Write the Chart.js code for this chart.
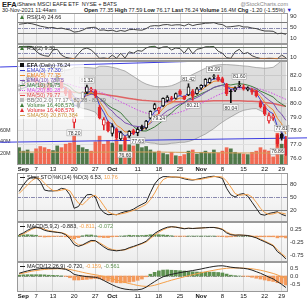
<!DOCTYPE html>
<html><head><meta charset="utf-8">
<script src="https://cdn.jsdelivr.net/npm/chart.js@4.4.1/dist/chart.umd.min.js"></script>
<style>
body{margin:0;width:307px;height:300px;overflow:hidden;background:#fff;font-family:"Liberation Sans",Arial,sans-serif;position:relative}
canvas{position:absolute;left:0}
.t{position:absolute;white-space:nowrap;line-height:1;color:#222}
</style></head><body>
<div class="t" style="left:2px;top:1px;font-size:7.5px;font-weight:bold">EFA</div>
<div class="t" style="left:17px;top:2px;font-size:5.5px">iShares MSCI EAFE ETF&nbsp; NYSE + BATS</div>
<div class="t" style="right:19px;top:2px;font-size:5.5px;color:#888">@StockCharts.com</div>
<div class="t" style="left:2px;top:8px;font-size:5.5px">30-Nov-2021 11:44am</div>
<div class="t" style="right:15px;top:8px;font-size:5.5px"><b>Open</b> 77.35 <b>High</b> 77.59 <b>Low</b> 76.17 <b>Last</b> 76.24 <b>Volume</b> 16.4M <b>Chg</b> -1.20 (-1.55%) <span style="color:#22c">&#9660;</span></div>
<canvas id="rsi14" width="307" height="31" style="top:13px"></canvas>
<canvas id="rsi2" width="307" height="17" style="top:44px"></canvas>
<canvas id="price" width="307" height="112" style="top:61px"></canvas>
<canvas id="sto" width="307" height="49" style="top:173px"></canvas>
<canvas id="macd1" width="307" height="40" style="top:222px"></canvas>
<canvas id="macd2" width="307" height="38" style="top:262px"></canvas>
<script>
const FONT='"Liberation Sans", Arial, sans-serif';
// date ticks (trading-day index, Aug 31 = 0 ... Nov 30 = 63)
const tickIdx=[1,4,8,13,18,22,28,33,38,43,48,53,58,62];
const tickText=['Sep','7','13','20','27','Oct','11','18','25','Nov','8','15','22','29'];

// daily candles
const O=[81.00,81.40,81.70,81.85,81.90,81.30,81.20,81.40,81.30,81.95, 81.60,81.00,80.90,78.60,80.00,80.30,80.80,80.95,80.90,79.70, 78.40,78.60,77.80,78.10,77.40,77.50,77.60,78.00,77.85,78.30, 78.20,78.90,79.60,79.50,79.80,80.20,80.40,80.35,80.90,80.50, 80.60,80.90,80.70,81.10,81.30,81.50,81.95,81.90,81.80,81.40, 80.90,80.95,81.25,81.20,81.00,80.95,80.90,80.05,79.75,78.70, 78.95,77.70,77.75,77.35];
const H=[81.35,81.70,82.00,82.10,82.00,81.50,81.45,81.55,81.60,82.05, 81.70,81.15,80.95,79.00,80.10,80.85,81.32,81.15,81.00,79.85, 78.95,78.70,78.50,78.20,77.95,77.60,78.00,78.10,78.25,78.40, 78.75,79.45,80.00,79.70,80.40,80.55,80.50,80.75,81.00,80.55, 81.42,81.00,81.15,81.35,81.80,81.85,82.09,82.05,81.90,81.45, 81.00,81.20,81.60,81.35,81.20,81.05,80.95,80.20,79.90,79.30, 79.20,77.75,77.81,77.59];
const L=[80.90,81.30,81.55,81.70,81.45,81.00,80.95,80.95,81.15,81.55, 81.05,80.55,80.30,78.20,79.65,80.20,80.70,80.85,80.40,78.85, 78.05,77.90,77.60,77.35,77.30,76.60,77.50,77.70,77.63,78.00, 78.10,78.85,79.50,79.24,79.75,80.10,80.20,80.30,80.60,80.25, 80.55,80.21,80.65,81.00,81.20,81.45,81.75,81.60,81.50,80.55, 80.04,80.85,81.15,80.95,80.90,80.65,80.45,79.65,79.10,78.55, 78.75,76.86,77.30,76.17];
const C=[81.25,81.60,81.90,81.95,81.55,81.20,81.05,81.00,81.50,81.60, 81.10,80.70,80.40,78.95,79.75,80.80,81.20,81.05,80.55,78.95, 78.80,78.00,78.30,77.45,77.85,77.30,77.95,77.80,78.10,78.15, 78.70,79.40,79.90,79.65,80.35,80.45,80.30,80.70,80.65,80.30, 81.20,80.50,81.05,81.30,81.75,81.80,82.00,81.70,81.55,80.70, 80.85,81.10,81.30,81.05,81.10,80.80,80.55,79.75,79.20,79.10, 79.05,77.05,77.44,76.24];
const vol=[30,24,26,20,28,32,30,27,25,33, 30,36,38,52,34,30,27,24,40,50, 36,42,38,44,35,46,35,33,36,30, 32,26,22,24,20,18,22,16,15,18, 24,26,19,22,24,20,26,21,24,30, 28,22,20,19,18,22,24,30,26,24, 14,55,36,16.4];
const volSma=[22.5,22.5,22.4,22.4,22.3,22.3,22.2,22.2,22.1,22.1, 22.0,22.0,22.0,22.1,22.1,22.1,22.1,22.0,22.0,22.2, 22.3,22.4,22.4,22.5,22.5,22.6,22.6,22.6,22.5,22.5, 22.5,22.5,22.4,22.3,22.3,22.2,22.1,22.0,21.9,21.8, 21.7,21.6,21.5,21.4,21.3,21.3,21.2,21.1,21.0,21.0, 21.0,20.9,20.9,20.8,20.8,20.7,20.7,20.7,20.7,20.7, 20.6,20.8,20.9,20.87];

// price overlays
const ema3=[81.20,81.40,81.65,81.80,81.68,81.44,81.25,81.12,81.31,81.46, 81.28,80.99,80.70,79.82,79.79,80.29,80.75,80.90,80.72,79.84, 79.32,78.66,78.48,77.97,77.91,77.60,77.78,77.79,77.94,78.05, 78.37,78.89,79.39,79.52,79.94,80.19,80.25,80.47,80.56,80.43, 80.82,80.66,80.85,81.08,81.41,81.61,81.80,81.75,81.65,81.18, 81.01,81.06,81.18,81.11,81.11,80.96,80.75,80.25,79.73,79.41, 79.23,78.30,77.90,77.30];
const ema5=[81.10,81.27,81.48,81.64,81.61,81.47,81.33,81.22,81.31,81.41, 81.31,81.11,80.87,80.23,80.07,80.31,80.61,80.76,80.69,80.11, 79.67,79.11,78.84,78.38,78.20,77.90,77.92,77.88,77.95,78.02, 78.25,78.63,79.05,79.25,79.62,79.90,80.03,80.25,80.38,80.35, 80.63,80.59,80.74,80.93,81.20,81.40,81.60,81.63,81.60,81.30, 81.15,81.13,81.19,81.14,81.13,81.02,80.86,80.49,80.06,79.74, 79.51,78.90,78.50,77.75];
const ema10=[81.00,81.11,81.25,81.37,81.41,81.37,81.31,81.26,81.30,81.35, 81.30,81.17,80.98,80.45,80.33,80.41,80.56,80.65,80.63,80.32, 80.05,79.67,79.42,79.07,78.85,78.57,78.46,78.34,78.30,78.27, 78.35,78.54,78.79,78.95,79.20,79.45,79.60,79.80,79.95,80.01, 80.23,80.28,80.42,80.58,80.79,80.97,81.16,81.25,81.30,81.19, 81.12,81.12,81.15,81.13,81.12,81.06,80.97,80.75,80.47,80.22, 80.01,79.50,79.20,78.75];
const ma10=[81.00,81.10,81.20,81.30,81.35,81.35,81.35,81.35,81.40,81.45, 81.45,81.36,81.21,80.91,80.73,80.69,80.70,80.71,80.61,80.35, 80.12,79.85,79.64,79.49,79.30,78.95,78.63,78.30,78.06,77.98, 77.97,78.11,78.27,78.49,78.74,79.06,79.29,79.58,79.83,80.05, 80.30,80.41,80.53,80.69,80.83,80.97,81.14,81.24,81.33,81.37, 81.33,81.39,81.42,81.39,81.32,81.22,81.08,80.88,80.75,80.60, 80.45,80.15,79.95,79.75];
const ma20=[81.20,81.25,81.30,81.35,81.38,81.40,81.40,81.40,81.42,81.45, 81.45,81.42,81.38,81.25,81.18,81.12,81.08,81.02,80.95,80.82, 80.70,80.55,80.40,80.25,80.10,79.95,79.80,79.65,79.50,79.38, 79.28,79.20,79.15,79.10,79.10,79.12,79.18,79.25,79.35,79.45, 79.58,79.70,79.85,80.00,80.15,80.30,80.45,80.60,80.72,80.82, 80.90,80.98,81.05,81.10,81.12,81.12,81.10,81.02,80.92,80.82, 80.70,80.55,80.42,80.28];
const ma50=[80.70,80.72,80.74,80.76,80.78,80.80,80.81,80.82,80.83,80.84, 80.84,80.84,80.83,80.80,80.78,80.77,80.76,80.75,80.73,80.69, 80.65,80.60,80.55,80.50,80.45,80.40,80.35,80.30,80.26,80.22, 80.19,80.17,80.15,80.13,80.12,80.11,80.11,80.11,80.11,80.11, 80.12,80.12,80.13,80.14,80.15,80.16,80.17,80.18,80.18,80.18, 80.17,80.17,80.17,80.16,80.15,80.14,80.12,80.10,80.06,80.02, 79.98,79.90,79.84,79.77];
const bbUp=[82.30,82.30,82.32,82.35,82.38,82.40,82.40,82.40,82.40,82.42, 82.42,82.42,82.45,82.60,82.62,82.62,82.60,82.58,82.55,82.70, 82.70,82.68,82.62,82.55,82.45,82.35,82.15,81.95,81.75,81.55, 81.40,81.30,81.22,81.20,81.20,81.22,81.28,81.40,81.55,81.75, 81.95,82.10,82.25,82.40,82.55,82.65,82.75,82.80,82.82,82.82, 82.80,82.78,82.75,82.72,82.70,82.65,82.60,82.58,82.55,82.58, 82.62,82.85,83.10,83.39];
const bbLow=[80.10,80.20,80.28,80.35,80.38,80.40,80.40,80.40,80.44,80.48, 80.48,80.42,80.31,79.90,79.74,79.62,79.56,79.46,79.35,78.94, 78.70,78.42,78.18,77.95,77.75,77.55,77.45,77.35,77.25,77.21, 77.16,77.10,77.08,77.00,77.00,77.02,77.08,77.10,77.15,77.15, 77.21,77.30,77.45,77.60,77.75,77.95,78.15,78.40,78.62,78.82, 79.00,79.18,79.35,79.48,79.54,79.59,79.60,79.46,79.29,79.06, 78.78,78.25,77.74,77.17];
const trendX=[-4.5,68];
const trendUp=[82.64,83.30];
const trendLow=[77.15,77.47];
const hiMarks=[9,16,40,46,52,62];
const loMarks=[13,25,28,33,41,50,61];

// indicators
const rsi14=[62,64,66,64,60,55,52,49,50,46, 48,44,41,33,35,40,48,50,51,40, 41,38,40,35,39,36,42,43,41,40, 46,55,57,56,60,61,58,60,60,56, 63,57,61,63,66,66.5,68,63,61,52, 53,55,57,52,52,48,46,41,37,37, 36,27,29,24.66];
const rsi2=[96,97,98,97,60,35,25,20,70,75, 30,12,6,2,40,75,85,70,40,5, 8,3,30,5,45,6,55,45,65,60, 85,96,98,80,93,95,70,85,80,45, 88,40,75,82,94,95,97,60,45,10, 5,55,75,40,50,25,12,4,3,5, 4,2,30,9.30];
const stoK=[63,78,90,96,95,86,66,64,64,65, 70,68,55,24,28,43,55,56,50,25, 14,9,10,9,13,16,18,22,28,33, 38,60,80,92,97,97,96,96,95,92, 90,89,91,93,95,97,98,96,93,70, 55,50,56,58,52,38,24,10,8,12, 14,16,10,6.53];
const stoD=[58,68,78,88,94,92,82,72,65,64, 66,68,64,49,36,32,42,51,54,44, 30,16,11,9,11,13,16,19,23,28, 33,44,59,77,90,95,97,96,96,94, 92,90,90,91,93,95,97,97,96,87, 73,58,54,55,56,50,38,24,14,10, 11,14,13,10.76];
const macdA=[0.05,0.12,0.22,0.30,0.35,0.30,0.22,0.18,0.16,0.14, 0.12,0.05,-0.10,-0.33,-0.40,-0.34,-0.25,-0.17,-0.18,-0.30, -0.42,-0.52,-0.55,-0.57,-0.55,-0.52,-0.45,-0.40,-0.34,-0.28, -0.20,-0.05,0.10,0.20,0.28,0.34,0.36,0.34,0.31,0.28, 0.30,0.29,0.30,0.31,0.32,0.33,0.33,0.30,0.25,0.12, 0.05,0.03,0.04,0.03,0.02,-0.02,-0.07,-0.15,-0.22,-0.30, -0.38,-0.60,-0.72,-0.883];
const macdAsig=[0.02,0.08,0.17,0.26,0.32,0.31,0.26,0.21,0.18,0.15, 0.13,0.08,-0.03,-0.22,-0.34,-0.35,-0.29,-0.21,-0.19,-0.26, -0.36,-0.46,-0.52,-0.55,-0.55,-0.53,-0.48,-0.42,-0.36,-0.30, -0.23,-0.10,0.04,0.15,0.24,0.31,0.35,0.35,0.32,0.29, 0.30,0.29,0.30,0.31,0.32,0.33,0.33,0.31,0.27,0.16, 0.08,0.04,0.04,0.03,0.02,-0.01,-0.05,-0.12,-0.19,-0.27, -0.35,-0.53,-0.68,-0.811];
const macdAhist=[0.03,0.04,0.05,0.04,0.03,-0.01,-0.04,-0.03,-0.02,-0.01, -0.01,-0.03,-0.07,-0.11,-0.06,0.01,0.04,0.04,0.01,-0.04, -0.06,-0.06,-0.03,-0.02,0.00,0.01,0.03,0.02,0.02,0.02, 0.03,0.05,0.06,0.05,0.04,0.03,0.01,-0.01,-0.01,-0.01, 0.00,0.00,0.00,0.00,0.00,0.00,0.00,-0.01,-0.02,-0.04, -0.03,-0.01,0.00,0.00,0.00,-0.01,-0.02,-0.03,-0.03,-0.03, -0.03,-0.07,-0.04,-0.072];
const macdB=[0.17,0.25,0.32,0.38,0.42,0.46,0.48,0.48,0.48,0.48, 0.46,0.42,0.30,0.10,0.04,0.00,-0.04,-0.06,-0.08,-0.15, -0.28,-0.42,-0.55,-0.67,-0.76,-0.82,-0.85,-0.87,-0.86,-0.82, -0.70,-0.52,-0.35,-0.18,-0.05,0.04,0.10,0.16,0.21,0.26, 0.30,0.34,0.39,0.44,0.50,0.55,0.60,0.63,0.64,0.60, 0.55,0.52,0.50,0.48,0.44,0.37,0.27,0.17,0.05,-0.07, -0.18,-0.35,-0.52,-0.72];
const macdBsig=[0.12,0.18,0.24,0.30,0.34,0.38,0.41,0.43,0.44,0.45, 0.45,0.44,0.41,0.35,0.29,0.23,0.17,0.12,0.08,0.03, -0.03,-0.10,-0.17,-0.25,-0.33,-0.40,-0.47,-0.53,-0.59,-0.63, -0.65,-0.63,-0.58,-0.50,-0.42,-0.34,-0.26,-0.19,-0.12,-0.05, 0.02,0.08,0.14,0.20,0.26,0.31,0.36,0.41,0.45,0.48, 0.50,0.50,0.50,0.49,0.47,0.45,0.41,0.36,0.30,0.23, 0.16,0.07,-0.05,-0.159];
const macdBhist=[0.05,0.07,0.08,0.08,0.08,0.08,0.07,0.05,0.04,0.03, 0.01,-0.02,-0.11,-0.25,-0.25,-0.23,-0.21,-0.18,-0.16,-0.18, -0.25,-0.32,-0.38,-0.42,-0.43,-0.42,-0.38,-0.34,-0.27,-0.19, -0.05,0.11,0.23,0.32,0.37,0.38,0.36,0.35,0.33,0.31, 0.28,0.26,0.25,0.24,0.24,0.24,0.24,0.22,0.19,0.12, 0.05,0.02,0.00,-0.01,-0.03,-0.08,-0.14,-0.19,-0.25,-0.30, -0.34,-0.42,-0.47,-0.561];

const pts=a=>a.map((v,i)=>({x:i,y:v}));
const ln=(a,c,w,extra)=>Object.assign({type:'line',data:pts(a),borderColor:c,borderWidth:w||1,pointRadius:0,tension:0,fill:false},extra||{});

function xAxis(show){return {type:'linear',min:-0.5,max:63.5,offset:false,
  afterBuildTicks:s=>{s.ticks=tickIdx.map(v=>({value:v}));},
  afterFit:s=>{s.height=show?8:0;s.paddingLeft=0;s.paddingRight=0;},
  grid:{color:'#d4d4d4',drawTicks:false,offset:false},border:{display:false},
  ticks:{display:show,autoSkip:false,maxRotation:0,padding:1,color:'#111',
    font:c=>({family:FONT,size:6,weight:/[A-Z]/.test(tickText[c.index])?'bold':'normal'}),
    callback:(v,i)=>tickText[i]}};}
function yAxis(min,max,ticks,fmt,grid){return {position:'right',min,max,
  afterBuildTicks:s=>{s.ticks=ticks.map(v=>({value:v}));},
  afterFit:s=>{s.width=19;s.paddingTop=0;s.paddingBottom=0;},
  grid:{display:!!grid,color:'#e0e0e0',drawTicks:false},border:{display:false},
  ticks:{padding:2,color:'#333',font:{family:FONT,size:6},callback:fmt}};}

function drawLegend(ctx,a,rows,lh,box){
  ctx.save();
  if(box){ctx.fillStyle='rgba(255,255,255,0.7)';ctx.fillRect(a.left+1,a.top+1,box,rows.length*lh+2);}
  ctx.textBaseline='middle';
  rows.forEach((r,k)=>{
    const y=a.top+4+k*lh,x=a.left+3;
    ctx.fillStyle=r.c;ctx.strokeStyle=r.c;ctx.lineWidth=1;ctx.setLineDash(r.sw==='dot'?[1,1]:[]);
    if(r.sw==='tri'){ctx.beginPath();ctx.moveTo(x,y+2);ctx.lineTo(x+2,y-2);ctx.lineTo(x+4,y+2);ctx.fill();}
    else if(r.sw==='box'){ctx.fillRect(x,y-2,4,4);}
    else{ctx.beginPath();ctx.moveTo(x,y+0.5);ctx.lineTo(x+5,y+0.5);ctx.stroke();}
    let tx=x+7;
    r.t.forEach(([s,col,b])=>{ctx.font=(b?'bold ':'')+'5.5px '+FONT;ctx.fillStyle=col||'#222';ctx.fillText(s,tx,y+0.5);tx+=ctx.measureText(s).width;});
  });
  ctx.restore();
}
function deco(o){return {id:'deco',
  beforeDraw(ch){const {ctx,chartArea:a}=ch;ctx.save();const g=ctx.createLinearGradient(0,a.top,0,a.bottom);g.addColorStop(0,'#ffffff');g.addColorStop(1,'#ececec');ctx.fillStyle=g;ctx.fillRect(a.left,a.top,a.width,a.height);ctx.restore();},
  beforeDatasetsDraw(ch){const {ctx,chartArea:a,scales}=ch;ctx.save();(o.lines||[]).forEach(l=>{const y=Math.round(scales.y.getPixelForValue(l.v))+0.5;ctx.strokeStyle=l.c;ctx.lineWidth=1;ctx.setLineDash(l.d||[]);ctx.beginPath();ctx.moveTo(a.left,y);ctx.lineTo(a.right,y);ctx.stroke();});ctx.restore();},
  afterDatasetsDraw(ch){if(o.marks)o.marks(ch);},
  afterDraw(ch){const {ctx,chartArea:a}=ch;ctx.save();ctx.strokeStyle='#999';ctx.lineWidth=1;ctx.strokeRect(a.left+0.5,a.top+0.5,a.width-1,a.height-1);ctx.restore();if(o.legend)drawLegend(ctx,a,o.legend,o.lh||6,o.box);}
};}
function make(id,datasets,scales,o,padLeft){
  return new Chart(document.getElementById(id),{type:'bar',data:{datasets},
    options:{responsive:false,animation:false,events:[],layout:{padding:{left:padLeft===undefined?17:padLeft,right:0,top:0,bottom:0}},
      plugins:{legend:{display:false},tooltip:{enabled:false}},scales},
    plugins:[deco(o)]});
}
const DASHDOT=[4,1,1,1];
const GREEN='#3f7a36',ORANGE='#f4873a';

// RSI(14)
make('rsi14',[ln(rsi14,'#444',1)],
  {x:xAxis(false),y:yAxis(-11,103.7,[10,30,50,70,90],v=>v)},
  {lines:[{v:70,c:'#777'},{v:30,c:'#777'},{v:50,c:'#8a8ab0',d:DASHDOT}],
   legend:[{sw:'tri',c:GREEN,t:[['RSI(14) 24.66','#222']]}]});

// RSI(2)
make('rsi2',[
  ln(rsi2,'rgba(0,0,0,0)',0,{fill:{target:{value:90},above:GREEN,below:'rgba(0,0,0,0)'}}),
  ln(rsi2,'rgba(0,0,0,0)',0,{fill:{target:{value:10},above:'rgba(0,0,0,0)',below:ORANGE}}),
  ln(rsi2,'#444',1)],
  {x:xAxis(false),y:yAxis(-16,116,[10,50,90],v=>v)},
  {lines:[{v:90,c:'#777'},{v:10,c:'#777'},{v:50,c:'#8a8ab0',d:DASHDOT}],
   legend:[{sw:'tri',c:GREEN,t:[['RSI(2) 9.30','#222']]}]});

// price + volume
const upDay=C.map((c,i)=>i===0||c>=C[i-1]);
const cCol=upDay.map(u=>u?'#111':'#e3262c');
const volCol=upDay.map(u=>u?'rgba(52,100,45,0.85)':'rgba(242,82,55,0.85)');
const priceLegend=[
  {sw:'box',c:'#111',t:[['EFA','#111',true],[' (Daily) 76.24','#111']]},
  {sw:'line',c:'#3b3bd0',t:[['EMA(3) 77.30','#3b3bd0']]},
  {sw:'line',c:'#f08a2c',t:[['EMA(5) 77.75','#f08a2c']]},
  {sw:'line',c:'#7a4fb0',t:[['EMA(10) 78.75','#7a4fb0']]},
  {sw:'line',c:'#3d7a3d',t:[['MA(10) 79.75','#3d7a3d']]},
  {sw:'dot',c:'#d24ce6',t:[['MA(20) 80.28','#d24ce6']]},
  {sw:'line',c:'#e04646',t:[['MA(50) 79.77','#e04646']]},
  {sw:'box',c:'#bbb',t:[['BB(20,2.0) 77.17 - 80.28 - 83.39','#777']]},
  {sw:'tri',c:GREEN,t:[['Volume 16,408,576',GREEN]]},
  {sw:'tri',c:'#e3262c',t:[['Volume 16,408,576','#e3262c']]},
  {sw:'line',c:'#d4a25a',t:[['SMA(50) 20,870,384','#c8923a']]}
];
function priceMarks(ch){
  const {ctx,scales:{x,y}}=ch;ctx.save();ctx.font='5px '+FONT;ctx.textAlign='center';ctx.textBaseline='middle';
  const put=(i,v,dy)=>{const s=v.toFixed(2),w=ctx.measureText(s).width+2,px=x.getPixelForValue(i),py=y.getPixelForValue(v)+dy;
    ctx.fillStyle='rgba(255,255,255,0.9)';ctx.fillRect(px-w/2,py-3,w,6);ctx.strokeStyle='#999';ctx.lineWidth=0.5;ctx.strokeRect(px-w/2,py-3,w,6);
    ctx.fillStyle='#333';ctx.fillText(s,px,py+0.5);};
  hiMarks.forEach(i=>put(i,H[i],-5));loMarks.forEach(i=>put(i,L[i],5));
  ctx.restore();
}
make('price',[
  ln(bbUp,'rgba(130,130,130,0.6)',1,{fill:'+1',backgroundColor:'rgba(150,150,150,0.3)',order:20}),
  ln(bbLow,'rgba(130,130,130,0.6)',1,{order:20}),
  {type:'bar',yAxisID:'vol',data:pts(vol),backgroundColor:volCol,barThickness:3,grouped:false,order:15},
  ln(volSma,'#d4a25a',1,{yAxisID:'vol',order:14}),
  ln(ma50,'rgba(224,60,60,0.75)',1.5,{order:12}),
  ln(ma20,'#d24ce6',1,{borderDash:[1.5,1.5],order:11}),
  ln(ma10,'#3d7a3d',1,{order:10}),
  ln(ema10,'#7a4fb0',1,{order:9}),
  ln(ema5,'#f08a2c',1,{order:8}),
  ln(ema3,'#3b3bd0',1,{order:7}),
  {type:'line',data:trendX.map((x,k)=>({x,y:trendUp[k]})),borderColor:'#3b3be0',borderWidth:1,pointRadius:0,clip:false,order:6},
  {type:'line',data:trendX.map((x,k)=>({x,y:trendLow[k]})),borderColor:'#3b3be0',borderWidth:1,pointRadius:0,clip:false,order:6},
  {type:'bar',data:L.map((l,i)=>({x:i,y:[l,H[i]]})),backgroundColor:cCol,barThickness:1,grouped:false,order:3},
  {type:'bar',data:C.map((c,i)=>({x:i,y:[Math.min(O[i],c),Math.max(O[i],c)]})),backgroundColor:C.map((c,i)=>c<O[i]?cCol[i]:'#fff'),borderColor:cCol,borderWidth:1,borderSkipped:false,barThickness:3,grouped:false,order:2}
],{x:xAxis(true),
   y:yAxis(75.49,83.08,[76,76.5,77,77.5,78,78.5,79,79.5,80,80.5,81,81.5,82,82.5],v=>v.toFixed(1),true),
   vol:{position:'left',min:0,max:180,afterBuildTicks:s=>{s.ticks=[20,40,60].map(v=>({value:v}));},
     afterFit:s=>{s.width=17;s.paddingTop=0;s.paddingBottom=0;},grid:{display:false},border:{display:false},
     ticks:{padding:2,crossAlign:'far',color:'#333',font:{family:FONT,size:5.5},callback:v=>v+'M'}}},
 {legend:priceLegend,lh:5,box:66,marks:priceMarks},0);

// Slow STO
make('sto',[ln(stoD,'#f4a04a',1),ln(stoK,'#222',1)],
  {x:xAxis(false),y:yAxis(-7.7,105.4,[20,50,80],v=>v)},
  {lines:[{v:80,c:'#777'},{v:20,c:'#777'},{v:50,c:'#8a8ab0',d:DASHDOT}],
   legend:[{sw:'line',c:'#222',t:[['Slow STO %K(14) %D(3) 6.53, ','#222'],['10.76','#f4a04a']]}]});

// MACD(5,9,2)
make('macd1',[
  {type:'bar',data:pts(macdAhist),backgroundColor:macdAhist.map(v=>v>=0?'#5e9150':'#f49a5c'),barThickness:3,grouped:false,order:5},
  ln(macdAsig,'#f4a04a',1,{order:2}),ln(macdA,'#222',1,{order:1})],
  {x:xAxis(false),y:yAxis(-1.0,0.54,[0.25,0,-0.25,-0.5,-0.75],v=>v.toFixed(2))},
  {lines:[{v:0,c:'#999',d:DASHDOT}],
   legend:[{sw:'line',c:'#222',t:[['MACD(5,9,2) -0.883, ','#222'],['-0.811','#f4a04a'],[', ','#222'],['-0.072','#5e9150']]}]});

// MACD(12,26,9)
make('macd2',[
  {type:'bar',data:pts(macdBhist),backgroundColor:macdBhist.map(v=>v>=0?'#5e9150':'#f49a5c'),barThickness:3,grouped:false,order:5},
  ln(macdBsig,'#f4a04a',1,{order:2}),ln(macdB,'#222',1,{order:1})],
  {x:xAxis(true),y:yAxis(-1.0,0.875,[0.5,0,-0.5],v=>v.toFixed(1))},
  {lines:[{v:0,c:'#999',d:DASHDOT}],
   legend:[{sw:'line',c:'#222',t:[['MACD(12,26,9) -0.720, ','#222'],['-0.159','#f4a04a'],[', ','#222'],['-0.561','#5e9150']]}]});
</script>
</body></html>
